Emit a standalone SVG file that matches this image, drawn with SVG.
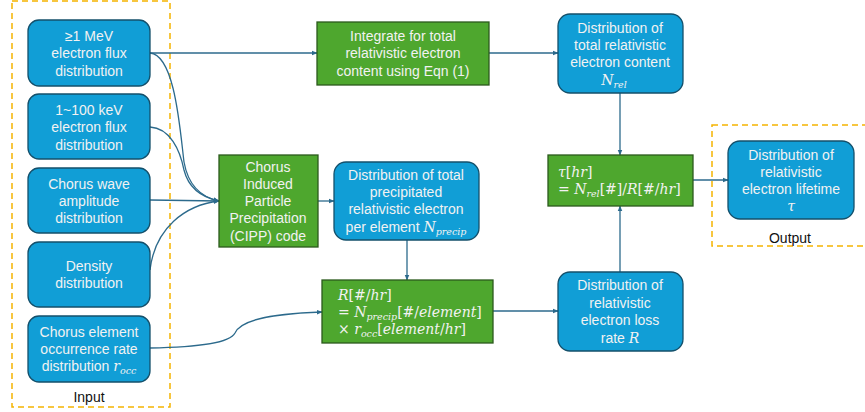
<svg xmlns="http://www.w3.org/2000/svg" width="865" height="412" viewBox="0 0 865 412">
<defs>
<marker id="arr" viewBox="0 0 10 10" refX="9" refY="5" markerWidth="6" markerHeight="6" orient="auto" markerUnits="userSpaceOnUse">
<path d="M0,1 L10,5 L0,9 z" fill="#2C6A8C"/>
</marker>
<style>
.blue{fill:#119ED6;stroke:#14506B;stroke-width:1.3}
.green{fill:#4EA72E;stroke:#2B5A1C;stroke-width:1.3}
.t{font-family:"Liberation Sans","Noto Sans",sans-serif;font-size:14px;fill:#F2F2F2;text-anchor:middle}
.m{font-family:"DejaVu Serif","Liberation Serif",serif;font-size:14px;fill:#F2F2F2}
.i{font-style:italic}
.sub{font-size:9.5px;font-style:italic}
.lbl{font-family:"Liberation Sans","Noto Sans",sans-serif;font-size:14px;fill:#111;text-anchor:middle}
.dash{fill:none;stroke:#F5B400;stroke-width:1.5;stroke-dasharray:6,4}
.c{fill:none;stroke:#2C6A8C;stroke-width:1.3}
</style>
</defs>
<rect width="865" height="412" fill="#FFFFFF"/>
<g id="input-group">
<rect class="dash" x="12" y="1" width="158" height="406"/>
<text class="lbl" x="89" y="402">Input</text>
</g>
<g id="output-group">
<rect class="dash" x="712" y="125" width="160" height="121"/>
<text class="lbl" x="790" y="243">Output</text>
</g>
<g id="connectors">
<path class="c" d="M150,53 L317,53" marker-end="url(#arr)"/>
<path class="c" d="M489,53 L558,53" marker-end="url(#arr)"/>
<path class="c" d="M150,53 C175,55 180,130 184,162 C189,190 205,198 219,201" marker-end="url(#arr)"/>
<path class="c" d="M150,127 C170,128 180,150 184,170 C189,190 205,198 219,201" marker-end="url(#arr)"/>
<path class="c" d="M150,200 L219,201" marker-end="url(#arr)"/>
<path class="c" d="M150,270 C155,228 185,205 219,201" marker-end="url(#arr)"/>
<path class="c" d="M150,348 C200,347 230,343 235,333 C240,322 262,314 322,312" marker-end="url(#arr)"/>
<path class="c" d="M318,201 L334,201" marker-end="url(#arr)"/>
<path class="c" d="M407,240 L407,280" marker-end="url(#arr)"/>
<path class="c" d="M493,311 L558,311" marker-end="url(#arr)"/>
<path class="c" d="M620,272 L620,206" marker-end="url(#arr)"/>
<path class="c" d="M620,93 L620,155" marker-end="url(#arr)"/>
<path class="c" d="M693,180 L728,180" marker-end="url(#arr)"/>
</g>
<g id="n1">
<rect class="blue" x="28" y="20" width="122" height="66" rx="11"/>
<text class="t" x="89" y="41">≥1 MeV</text>
<text class="t" x="89" y="58">electron flux</text>
<text class="t" x="89" y="76">distribution</text>
</g>
<g id="n2">
<rect class="blue" x="28" y="94" width="122" height="65" rx="11"/>
<text class="t" x="89" y="115">1~100 keV</text>
<text class="t" x="89" y="132">electron flux</text>
<text class="t" x="89" y="150">distribution</text>
</g>
<g id="n3">
<rect class="blue" x="28" y="168" width="122" height="65" rx="11"/>
<text class="t" x="89" y="189">Chorus wave</text>
<text class="t" x="89" y="206">amplitude</text>
<text class="t" x="89" y="223">distribution</text>
</g>
<g id="n4">
<rect class="blue" x="28" y="242" width="122" height="65" rx="11"/>
<text class="t" x="89" y="271">Density</text>
<text class="t" x="89" y="288">distribution</text>
</g>
<g id="n5">
<rect class="blue" x="28" y="316" width="122" height="66" rx="11"/>
<text class="t" x="89" y="337">Chorus element</text>
<text class="t" x="89" y="354">occurrence rate</text>
<text class="t" x="89" y="371">distribution <tspan class="m i">r</tspan><tspan class="m sub" dy="3">occ</tspan></text>
</g>
<g id="integrate">
<rect class="green" x="317" y="22" width="172" height="63"/>
<text class="t" x="403" y="41">Integrate for total</text>
<text class="t" x="403" y="58">relativistic electron</text>
<text class="t" x="403" y="76">content using Eqn (1)</text>
</g>
<g id="cipp">
<rect class="green" x="219" y="155" width="99" height="92"/>
<text class="t" x="268" y="172">Chorus</text>
<text class="t" x="268" y="189">Induced</text>
<text class="t" x="268" y="206">Particle</text>
<text class="t" x="268" y="223">Precipitation</text>
<text class="t" x="268" y="241">(CIPP) code</text>
</g>
<g id="precip">
<rect class="blue" x="334" y="162" width="145" height="78" rx="12"/>
<text class="t" x="406" y="180">Distribution of total</text>
<text class="t" x="406" y="197">precipitated</text>
<text class="t" x="406" y="214">relativistic electron</text>
<text class="t" x="406" y="232">per element <tspan class="m i">N</tspan><tspan class="m sub" dy="3">precip</tspan></text>
</g>
<g id="rformula">
<rect class="green" x="322" y="280" width="171" height="63"/>
<text class="m" x="338" y="300"><tspan class="i">R</tspan>[#/<tspan class="i">hr</tspan>]</text>
<text class="m" x="338" y="317">= <tspan class="i">N</tspan><tspan class="sub" dy="3">precip</tspan><tspan dy="-3">[#/</tspan><tspan class="i">element</tspan>]</text>
<text class="m" x="338" y="334">× <tspan class="i">r</tspan><tspan class="sub" dy="3">occ</tspan><tspan dy="-3">[</tspan><tspan class="i">element</tspan>/<tspan class="i">hr</tspan>]</text>
</g>
<g id="ntotal">
<rect class="blue" x="558" y="14" width="125" height="79" rx="12"/>
<text class="t" x="620" y="33">Distribution of</text>
<text class="t" x="620" y="50">total relativistic</text>
<text class="t" x="620" y="67">electron content</text>
<text class="m" x="614" y="85" style="text-anchor:middle"><tspan class="i">N</tspan><tspan class="sub" dy="3">rel</tspan></text>
</g>
<g id="tau">
<rect class="green" x="548" y="155" width="145" height="51"/>
<text class="m" x="558" y="177"><tspan class="i">τ</tspan>[<tspan class="i">hr</tspan>]</text>
<text class="m" x="558" y="194">= <tspan class="i">N</tspan><tspan class="sub" dy="3">rel</tspan><tspan dy="-3">[#]/</tspan><tspan class="i">R</tspan>[#/<tspan class="i">hr</tspan>]</text>
</g>
<g id="lifetime">
<rect class="blue" x="728" y="141" width="126" height="78" rx="12"/>
<text class="t" x="791" y="160">Distribution of</text>
<text class="t" x="791" y="177">relativistic</text>
<text class="t" x="791" y="194">electron lifetime</text>
<text class="m i" x="791" y="211" style="text-anchor:middle">τ</text>
</g>
<g id="lossrate">
<rect class="blue" x="558" y="272" width="125" height="79" rx="12"/>
<text class="t" x="620" y="290">Distribution of</text>
<text class="t" x="620" y="308">relativistic</text>
<text class="t" x="620" y="325">electron loss</text>
<text class="t" x="620" y="343">rate <tspan class="m i">R</tspan></text>
</g>
</svg>
